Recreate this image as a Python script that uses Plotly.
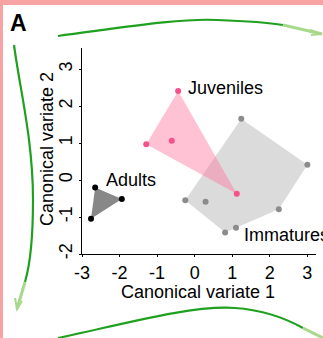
import plotly.graph_objects as go

# ---- data ----
adults_x = [-2.65, -1.94, -2.76]
adults_y = [-0.20, -0.51, -1.05]

juveniles_x = [-0.44, -1.29, -0.61, 1.12]
juveniles_y = [2.41, 0.97, 1.06, -0.37]
juveniles_hull = [0, 1, 3]

immatures_x = [1.24, 3.00, 2.24, 1.10, 0.81, -0.25, 0.29]
immatures_y = [1.66, 0.41, -0.79, -1.29, -1.42, -0.55, -0.59]
immatures_hull = [0, 1, 2, 3, 4, 5]

group_labels = ["Adults", "Juveniles", "Immatures"]
label_x = [-2.42, -0.22, 1.27]
label_y = [0.0, 2.48, -1.49]

x_ticks = [-3, -2, -1, 0, 1, 2, 3]
y_ticks = [-2, -1, 0, 1, 2, 3]
x_title = "Canonical variate 1"
y_title = "Canonical variate 2"

FONT = "Liberation Sans, Arial, sans-serif"
W, H = 323, 338
L, R, T, B = 82, 316, 48, 254  # plot area in pixels


def closed(xs, ys, idx):
    return [xs[i] for i in idx] + [xs[idx[0]]], [ys[i] for i in idx] + [ys[idx[0]]]


fig = go.Figure()

ix, iy = closed(immatures_x, immatures_y, immatures_hull)
fig.add_trace(go.Scatter(x=ix, y=iy, mode="lines", fill="toself",
                         fillcolor="rgba(200,200,200,0.65)", line=dict(width=0),
                         hoverinfo="skip"))
jx, jy = closed(juveniles_x, juveniles_y, juveniles_hull)
fig.add_trace(go.Scatter(x=jx, y=jy, mode="lines", fill="toself",
                         fillcolor="rgba(255,120,160,0.45)", line=dict(width=0),
                         hoverinfo="skip"))
ax_, ay_ = closed(adults_x, adults_y, [0, 1, 2])
fig.add_trace(go.Scatter(x=ax_, y=ay_, mode="lines", fill="toself",
                         fillcolor="#888888", line=dict(width=0), hoverinfo="skip"))

fig.add_trace(go.Scatter(x=immatures_x, y=immatures_y, mode="markers",
                         marker=dict(color="#8c8c8c", size=6)))
fig.add_trace(go.Scatter(x=juveniles_x, y=juveniles_y, mode="markers",
                         marker=dict(color="#f7508a", size=6)))
fig.add_trace(go.Scatter(x=adults_x, y=adults_y, mode="markers",
                         marker=dict(color="black", size=6)))

for t, x, y in zip(group_labels, label_x, label_y):
    fig.add_annotation(x=x, y=y, text=t, showarrow=False, xanchor="left",
                       yanchor="middle", font=dict(size=18, color="black", family=FONT))


# ---- decorations (pixel -> paper coords) ----
def px(x, y):
    return (x - L) / (R - L), (B - y) / (B - T)


def path(cmds):
    out = []
    for c in cmds:
        if isinstance(c, str):
            out.append(c)
        else:
            a, b = px(*c)
            out.append(f"{a:.4f},{b:.4f}")
    return " ".join(out)


shapes = []
pink = "#f7a3a3"
green = "#1fa01f"
light = "#a8d98a"
# pink border
shapes.append(dict(type="rect", xref="paper", yref="paper",
                   x0=px(0, 0)[0], x1=px(3, 0)[0], y0=px(0, H)[1], y1=px(0, 0)[1],
                   fillcolor=pink, line=dict(width=0), layer="above"))
shapes.append(dict(type="rect", xref="paper", yref="paper",
                   x0=px(0, 0)[0], x1=px(W, 0)[0], y0=px(0, 5)[1], y1=px(0, 0)[1],
                   fillcolor=pink, line=dict(width=0), layer="above"))
# green arrows
arrows = [
    (["M", (58, 36), "C", (120, 28), (180, 18), (217, 20), "C", (245, 21), (265, 22), (283, 25)],
     ["M", (283, 25), "L", (322, 34)],
     ["M", (310, 30), "L", (322, 34), "L", (311, 35)]),
    (["M", (14, 45), "C", (20, 90), (33, 140), (33, 200), "C", (33, 240), (30, 265), (25, 282)],
     ["M", (25, 282), "L", (17, 309)],
     ["M", (15, 298), "L", (17, 309), "L", (22, 301)]),
    (["M", (58, 338), "C", (120, 325), (190, 305), (235, 308), "C", (265, 310), (285, 318), (303, 328)],
     ["M", (303, 328), "L", (323, 338)],
     None),
]
for dark, lite, head in arrows:
    shapes.append(dict(type="path", xref="paper", yref="paper", path=path(dark),
                       line=dict(color=green, width=2.2), layer="above"))
    shapes.append(dict(type="path", xref="paper", yref="paper", path=path(lite),
                       line=dict(color=light, width=3), layer="above"))
    if head:
        shapes.append(dict(type="path", xref="paper", yref="paper", path=path(head),
                           line=dict(color=light, width=2), layer="above"))

fig.add_annotation(xref="paper", yref="paper", x=px(8, 0)[0], y=px(0, 8)[1],
                   text="<b>A</b>", showarrow=False, xanchor="left", yanchor="top",
                   font=dict(size=23, color="black", family=FONT))

# axis titles
fig.add_annotation(xref="paper", yref="paper", x=px(198, 0)[0], y=px(0, 292)[1],
                   text=x_title, showarrow=False, xanchor="center", yanchor="middle",
                   font=dict(size=18, color="black", family=FONT))
fig.add_annotation(xref="paper", yref="paper", x=px(47, 0)[0], y=px(0, 149)[1],
                   text=y_title, showarrow=False, xanchor="center", yanchor="middle",
                   textangle=-90, font=dict(size=18, color="black", family=FONT))

axis_common = dict(showline=True, linecolor="black", linewidth=1, ticks="outside",
                   ticklen=2, tickcolor="black", showgrid=False, zeroline=False,
                   tickfont=dict(size=18, color="black", family=FONT))

fig.update_layout(
    width=W, height=H, margin=dict(l=L, r=W - R, t=T, b=H - B),
    paper_bgcolor="white", plot_bgcolor="white", showlegend=False,
    shapes=shapes,
    xaxis=dict(range=[-3, 3.23], tickvals=x_ticks, ticktext=[str(v) for v in x_ticks],
               **axis_common),
    yaxis=dict(range=[-2, 3.57], tickvals=y_ticks, ticktext=[str(v) for v in y_ticks],
               tickangle=-90, **axis_common),
)

fig.write_html("out.html", config={"displayModeBar": False},
               post_script="document.body.style.margin='0';document.body.style.overflow='hidden';")
